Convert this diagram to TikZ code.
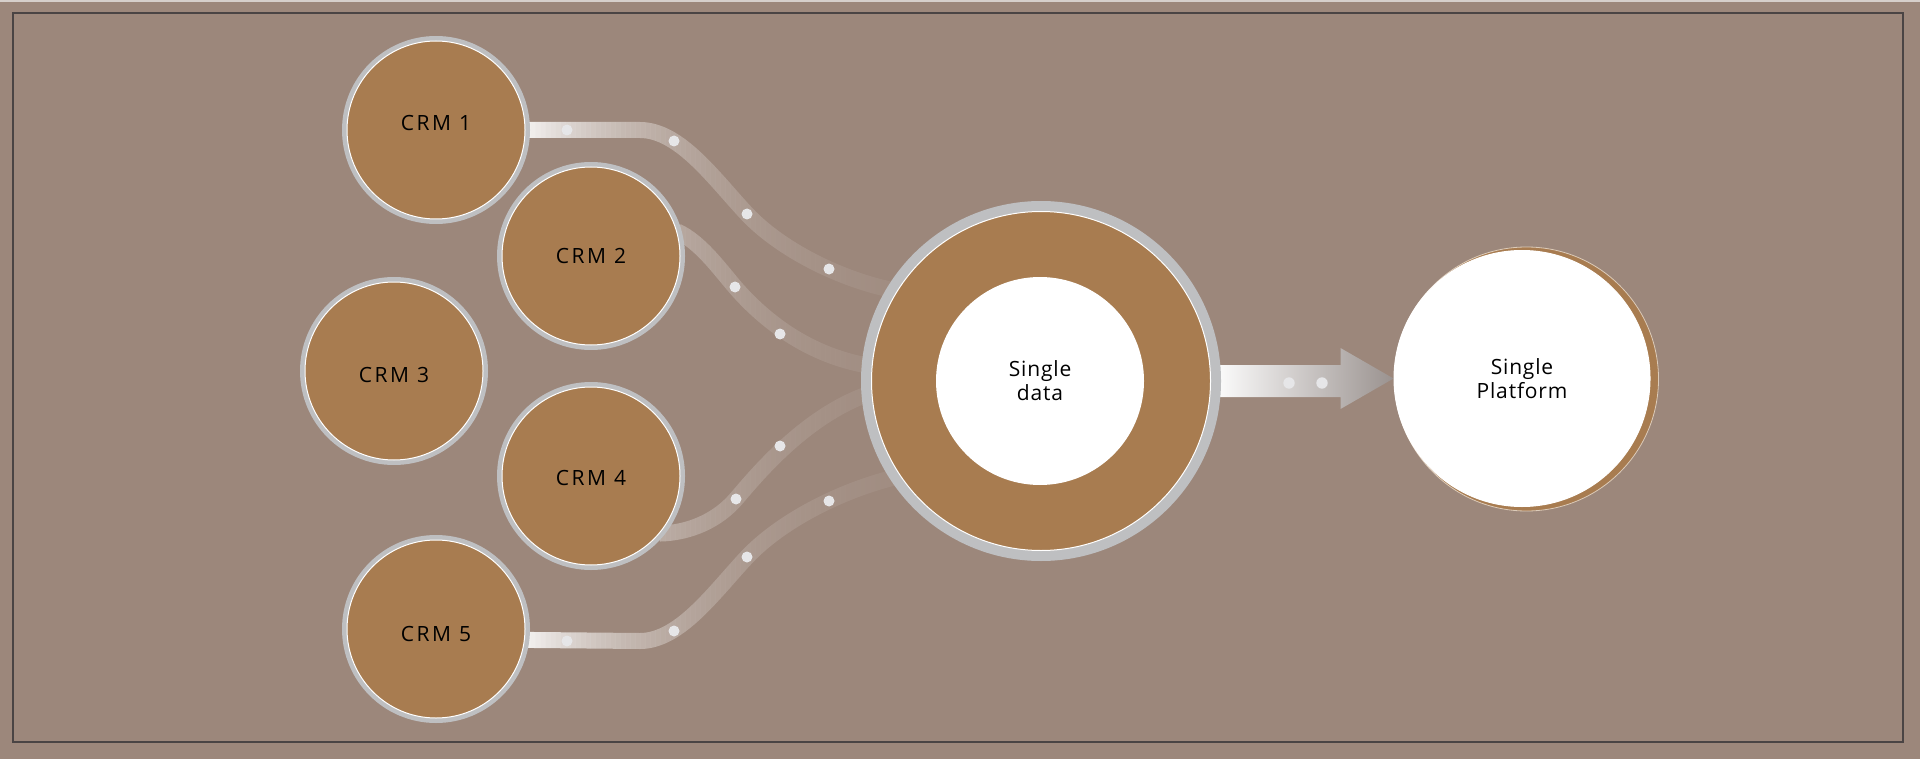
\documentclass[tikz,border=0pt]{standalone}
\usepackage{fontspec}
\usetikzlibrary{calc}
\newfontfamily\lblfont[LetterSpace=4]{Open Sans}
\newfontfamily\crmfont[LetterSpace=12]{Open Sans}
\definecolor{bgc}{HTML}{9C877B}
\definecolor{crmbrown}{HTML}{A87C50}
\definecolor{ringgray}{HTML}{BEBFC1}
\definecolor{dotc}{HTML}{E6E6E8}
\definecolor{framec}{HTML}{4A4444}
\definecolor{arrowend}{HTML}{9A928F}
\definecolor{topstrip}{HTML}{D6CFCB}
\pgfdeclarelayer{back}
\pgfdeclarelayer{bands}
\pgfsetlayers{back,bands,main}
\newcommand\crmbands{%
  (crm1.east) -- (640,130) .. controls (680,130) and (715,180) .. (747,214)
    .. controls (780,249) and (840,280) .. (bigc.148)
  (crm5.-7) -- (640,641) .. controls (680,641) and (715,591) .. (747,557)
    .. controls (780,522) and (840,490) .. (bigc.214)
  (crm2.16) .. controls (700,242) and (718,267) .. (735,287)
    .. controls (755,310) and (800,355) .. (bigc.175)
  (crm4.-40) .. controls (690,533) and (718,520) .. (736,499)
    .. controls (755,477) and (805,415) .. (bigc.184)}
\begin{document}
\begin{tikzpicture}[x=0.5pt, y=-0.5pt,
  lbl/.style={font=\lblfont\fontsize{10.5pt}{12pt}\selectfont, text=black, align=center},
  crm/.style={font=\crmfont\fontsize{10.5pt}{12pt}\selectfont, text=black, text height=7.6pt, text depth=0pt,
    circle, inner sep=0pt, minimum size=89pt, fill=crmbrown, draw=white, line width=0.5pt,
    preaction={draw=ringgray, line width=5pt}},
  bigring/.style={circle, inner sep=0pt, minimum size=169.5pt, fill=crmbrown, draw=white, line width=0.5pt,
    preaction={draw=ringgray, line width=10.5pt}},
  inwhite/.style={lbl, circle, inner sep=0pt, minimum size=104pt, fill=white},
  dotm/.style={fill=dotc}
]
\useasboundingbox (0,0) rectangle (1920,759);
\begin{pgfonlayer}{back}
  \fill[bgc] (0,0) rectangle (1920,759);
  \fill[topstrip] (0,0) rectangle (1920,2.5);
  \draw[framec, line width=0.6pt] (13,13) rectangle (1903,742);
\end{pgfonlayer}

% CRM circles
\node[crm] (crm1) at (436,130) {\raisebox{3.5pt}{CRM 1}};
\node[crm] (crm2) at (591,256) {CRM 2};
\node[crm] (crm3) at (394,371) {\raisebox{-2pt}{CRM 3}};
\node[crm] (crm4) at (591,476) {\raisebox{-1pt}{CRM 4}};
\node[crm] (crm5) at (436,629) {\raisebox{-2.5pt}{CRM 5}};

% Single data
\node[bigring] (bigc) at (1041,381) {};
\node[inwhite] (sdata) at (1040,381) {Single\\data};

% Single Platform
\node[circle, inner sep=0pt, minimum size=132pt, fill=crmbrown, draw=white!60!crmbrown, line width=0.4pt] (platbg) at (1526.5,379) {};
\node[lbl, circle, inner sep=0pt, minimum size=128pt, fill=white, draw=white, line width=0.5pt] (plat) at (1522,378.5) {Single\\Platform};

\begin{pgfonlayer}{bands}
  % flowing bands, fading out from left to right (drawn in thin vertical strips)
  \foreach \i in {0,...,74} {
    \pgfmathsetmacro{\op}{0.92*exp(-2.9*\i/75)}
    \begin{scope}
      \clip (520+5*\i,0) rectangle (525+5*\i,759);
      \draw[white, line width=8pt, opacity=\op] \crmbands;
    \end{scope}
  }
  % dots on bands
  \foreach \p in {(567,130),(674,141),(747,214),(829,269),(735,287),(780,334),(736,499),(780,446),(567,641),(674,631),(747,557),(829,501)}
    \fill[dotm] \p circle (5.5);
  % arrow
  \coordinate (ah) at ($(plat.west)+(-53,0)$);
  \coordinate (s1) at ($(bigc.east)+(0,-16)$);
  \coordinate (s2) at ($(bigc.east)+(0,16)$);
  \shade[left color=white, right color=arrowend]
    (s1) -- (s1 -| ah) -- ($(ah)+(0,-30.5)$) -- (plat.west) -- ($(ah)+(0,30.5)$) -- (s2 -| ah) -- (s2) -- cycle;
  \fill[dotm] (1289,383) circle (5.7);
  \fill[dotm] (1322,383) circle (5.7);
\end{pgfonlayer}
\end{tikzpicture}
\end{document}
